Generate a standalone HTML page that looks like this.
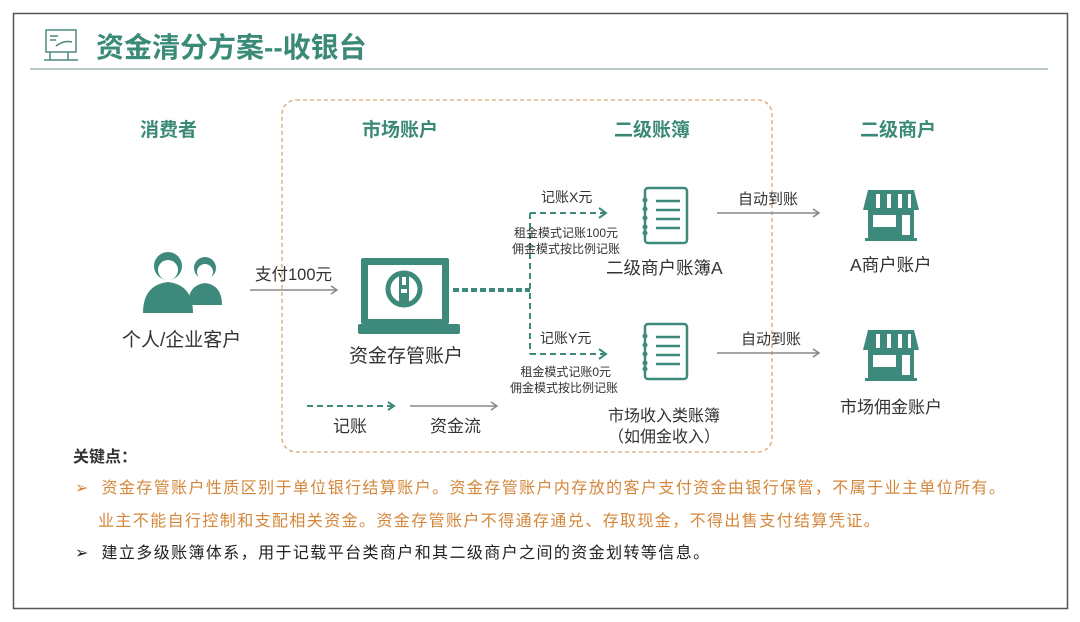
<!DOCTYPE html>
<html><head><meta charset="utf-8"><style>
body{margin:0;width:1080px;height:622px;background:#fff;overflow:hidden;font-family:"Liberation Sans","Noto Sans CJK SC",sans-serif;}
.t{position:absolute;white-space:nowrap;color:#333;}
</style></head><body>
<svg width="1080" height="622" style="position:absolute;left:0;top:0">
<rect x="13.5" y="13.5" width="1054" height="595" fill="none" stroke="#555" stroke-width="1.5"/>
<line x1="30" y1="69" x2="1048" y2="69" stroke="#b9c9c5" stroke-width="2"/>
<g fill="none" stroke="#4a8a7e" stroke-width="1.5">
<rect x="46" y="30" width="30" height="22"/><line x1="50" y1="52" x2="50" y2="60"/><line x1="68" y1="52" x2="68" y2="60"/><line x1="44" y1="60" x2="78" y2="60"/>
<line x1="50" y1="36" x2="58" y2="36"/><line x1="50" y1="40" x2="56" y2="40"/><path d="M56 46 q8 -6 16 -4"/>
</g>
<rect x="282" y="100" width="490" height="352" rx="14" fill="none" stroke="#d9a574" stroke-width="1.3" stroke-dasharray="4,3"/>
<g fill="#3d8a7c">
<circle cx="205" cy="268" r="11"/><path d="M188 305 q0 -20 17 -22 q17 2 17 22z"/>
<circle cx="168" cy="266" r="14"/><path d="M143 313 q0 -28 25 -31 q25 3 25 31z"/>
</g>
<g fill="#fff"><circle cx="168" cy="270" r="10"/><circle cx="205" cy="272" r="8"/></g>
<line x1="250" y1="290" x2="336" y2="290" stroke="#888" stroke-width="1.5"/><path d="M331 286 l6 4 l-6 4" fill="none" stroke="#888" stroke-width="1.5"/>
<rect x="361" y="258" width="88" height="66" rx="2" fill="#3d8a7c"/>
<rect x="368" y="265" width="74" height="54" fill="#fff"/>
<rect x="358" y="324" width="102" height="10" rx="2" fill="#3d8a7c"/>
<circle cx="404" cy="289" r="16" fill="none" stroke="#3d8a7c" stroke-width="5"/>
<rect x="399" y="275" width="10" height="30" fill="#3d8a7c"/><rect x="402" y="277" width="4" height="8" fill="#fff"/><rect x="401" y="289" width="6" height="4" fill="#fff"/>
<g stroke="#3d8a7c" fill="none">
<line x1="453" y1="290" x2="530" y2="290" stroke-width="4" stroke-dasharray="6,3"/>
<path d="M530 213 V354" stroke-width="2" stroke-dasharray="6,4"/>
<line x1="530" y1="213" x2="605" y2="213" stroke-width="2" stroke-dasharray="6,4"/>
<line x1="530" y1="354" x2="605" y2="354" stroke-width="2" stroke-dasharray="6,4"/>
<path d="M599 208 l7 5 l-7 5M599 349 l7 5 l-7 5" stroke-width="2"/>
<line x1="307" y1="406" x2="392" y2="406" stroke-width="2" stroke-dasharray="6,4"/>
<path d="M388 402 l6 4 l-6 4" stroke-width="2"/>
</g>
<line x1="410" y1="406" x2="496" y2="406" stroke="#888" stroke-width="1.5"/><path d="M491 402 l6 4 l-6 4" fill="none" stroke="#888" stroke-width="1.5"/>
<g fill="none" stroke="#3d8a7c" stroke-width="2.5">
<rect x="645" y="188" width="42" height="55" rx="3"/><rect x="645" y="324" width="42" height="55" rx="3"/>
<path d="M656 201 h24M656 210 h24M656 219 h24M656 228 h24M656 337 h24M656 346 h24M656 355 h24M656 364 h24"/>
</g>
<g fill="#3d8a7c"><circle cx="645" cy="200" r="2.5"/><circle cx="645" cy="209" r="2.5"/><circle cx="645" cy="218" r="2.5"/><circle cx="645" cy="227" r="2.5"/><circle cx="645" cy="233" r="2.5"/>
<circle cx="645" cy="336" r="2.5"/><circle cx="645" cy="345" r="2.5"/><circle cx="645" cy="354" r="2.5"/><circle cx="645" cy="363" r="2.5"/><circle cx="645" cy="369" r="2.5"/></g>
<g stroke="#888" stroke-width="1.5" fill="none">
<line x1="717" y1="213" x2="818" y2="213"/><path d="M813 209 l6 4 l-6 4"/>
<line x1="717" y1="353" x2="818" y2="353"/><path d="M813 349 l6 4 l-6 4"/>
</g>
<g fill="#3d8a7c">
<path d="M868 190 h46 l5 20 h-56z"/><rect x="868" y="210" width="46" height="29"/><rect x="865" y="238" width="52" height="3"/>
<path d="M868 330 h46 l5 20 h-56z"/><rect x="868" y="350" width="46" height="29"/><rect x="865" y="378" width="52" height="3"/>
</g>
<g fill="#fff">
<rect x="876" y="194" width="4" height="14"/><rect x="887" y="194" width="4" height="14"/><rect x="898" y="194" width="4" height="14"/><rect x="908" y="194" width="3" height="14"/>
<rect x="873" y="215" width="23" height="12"/><rect x="902" y="215" width="8" height="20"/>
<rect x="876" y="334" width="4" height="14"/><rect x="887" y="334" width="4" height="14"/><rect x="898" y="334" width="4" height="14"/><rect x="908" y="334" width="3" height="14"/>
<rect x="873" y="355" width="23" height="12"/><rect x="902" y="355" width="8" height="20"/>
</g>
</svg>
<div class="t" style="left:96px;top:26px;font-size:28px;font-weight:bold;color:#3b8a78">资金清分方案--收银台</div>
<div class="t" style="left:140px;top:115px;font-size:19px;font-weight:bold;color:#3b8a78">消费者</div>
<div class="t" style="left:362px;top:115px;font-size:19px;font-weight:bold;color:#3b8a78">市场账户</div>
<div class="t" style="left:614px;top:115px;font-size:19px;font-weight:bold;color:#3b8a78">二级账簿</div>
<div class="t" style="left:860px;top:115px;font-size:19px;font-weight:bold;color:#3b8a78">二级商户</div>
<div class="t" style="left:255px;top:261px;font-size:16.5px">支付100元</div>
<div class="t" style="left:122px;top:325px;font-size:19px">个人/企业客户</div>
<div class="t" style="left:349px;top:341px;font-size:19px">资金存管账户</div>
<div class="t" style="left:541px;top:187px;font-size:14px">记账X元</div>
<div class="t" style="left:512px;top:225px;font-size:12px;line-height:16px;text-align:center">租金模式记账100元<br>佣金模式按比例记账</div>
<div class="t" style="left:606px;top:255px;font-size:17.5px">二级商户账簿A</div>
<div class="t" style="left:540px;top:328px;font-size:14px">记账Y元</div>
<div class="t" style="left:510px;top:364px;font-size:12px;line-height:16px;text-align:center">&nbsp;租金模式记账0元<br>佣金模式按比例记账</div>
<div class="t" style="left:608px;top:406px;font-size:16px;line-height:21px;text-align:center">市场收入类账簿<br>（如佣金收入）</div>
<div class="t" style="left:333px;top:412px;font-size:17px">记账</div>
<div class="t" style="left:430px;top:412px;font-size:17px">资金流</div>
<div class="t" style="left:738px;top:188px;font-size:15px">自动到账</div>
<div class="t" style="left:741px;top:328px;font-size:15px">自动到账</div>
<div class="t" style="left:850px;top:252px;font-size:17.5px">A商户账户</div>
<div class="t" style="left:840px;top:393px;font-size:17px">市场佣金账户</div>
<div class="t" style="left:73px;top:443px;font-size:16px;font-weight:bold">关键点：</div>
<div class="t" style="left:75px;top:474px;font-size:16px;letter-spacing:1.4px;color:#d4873a">➢&nbsp;&nbsp;资金存管账户性质区别于单位银行结算账户。资金存管账户内存放的客户支付资金由银行保管，不属于业主单位所有。</div>
<div class="t" style="left:98px;top:507px;font-size:16px;letter-spacing:1.4px;color:#d4873a">业主不能自行控制和支配相关资金。资金存管账户不得通存通兑、存取现金，不得出售支付结算凭证。</div>
<div class="t" style="left:75px;top:539px;font-size:16px;letter-spacing:1.4px;color:#222">➢&nbsp;&nbsp;建立多级账簿体系，用于记载平台类商户和其二级商户之间的资金划转等信息。</div>
</body></html>
